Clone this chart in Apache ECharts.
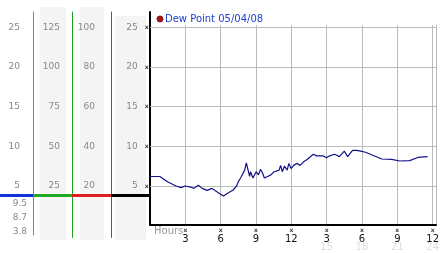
<!DOCTYPE html>
<html><head><meta charset="utf-8">
<script src="https://cdn.jsdelivr.net/npm/echarts@6/dist/echarts.min.js"></script>
<style>html,body{margin:0;padding:0;background:#fff}#c{width:442px;height:253px}</style>
</head><body><div id="c"></div>
<script>
// ---- data ----
const seriesName = 'Dew Point 05/04/08';
const hours = [0.00,0.83,1.52,2.22,2.64,2.97,3.47,3.74,4.10,4.43,4.85,5.27,5.55,5.96,6.24,6.38,6.66,7.07,7.35,7.49,7.76,8.04,8.18,8.46,8.54,8.74,9.01,9.21,9.38,9.57,9.71,9.98,10.26,10.54,10.67,10.96,11.09,11.23,11.42,11.65,11.79,11.98,12.20,12.48,12.62,12.75,13.04,13.31,13.87,14.14,14.70,14.98,15.25,15.67,16.08,16.50,16.78,17.20,17.55,17.89,18.30,18.86,19.69,20.52,21.21,22.05,22.74,23.57];
const dewPoint = [6.2,6.2,5.5,5.0,4.8,5.0,4.85,4.7,5.1,4.7,4.45,4.7,4.4,4.0,3.75,3.8,4.15,4.5,5.0,5.5,6.2,7.0,7.9,6.2,6.8,6.0,6.8,6.4,7.1,6.6,6.0,6.2,6.4,6.8,6.6,7.0,7.6,6.8,7.5,7.0,7.85,7.2,7.6,7.85,8.05,7.6,8.05,8.3,9.0,8.8,8.8,8.55,8.8,9.0,8.7,9.4,8.7,9.5,9.5,9.4,9.25,8.9,8.4,8.35,8.15,8.2,8.6,8.7];
const gridValues = [5, 10, 15, 20, 25];
const colScales = [1, 5, 4, 1];           // column multipliers of the left scales
const hourTickLabels = ['3','6','9','12','3','6','9','12'];
const hour24Labels = ['15','18','21','24'];
const stats = ['9.5', '8.7', '3.8'];
const markerValue = 3.8;

// ---- layout helpers ----
const PX5 = 186, PPU = 7.935;
const vAt = py => 5 + (PX5 - py) / PPU;
const H = 253;
const FONT = 'DejaVu Sans';
const colDefs = [
  {left: 0,   width: 33,   top: 12, bottomPx: 235,   axisColor: '#2f9fd0', axisW: 1, segColor: '#1133dd', margin: 13},
  {left: 33,  width: 39,   top: 12, bottomPx: 237.5, axisColor: '#22a022', axisW: 1, segColor: '#22aa22', margin: 12},
  {left: 72,  width: 39,   top: 12, bottomPx: 237.5, axisColor: '#cc2a2a', axisW: 1, segColor: '#e02020', margin: 16},
  {left: 111, width: 38.5, top: 12, bottomPx: 224.5, axisColor: '#000000', axisW: 2, segColor: '#000000', margin: 1}
];

const grids = [{left: 150, right: 0, top: 25, bottom: H - 224.5}];
const xAxes = [
  {type: 'value', gridIndex: 0, min: 0, max: 24 + 3.5/12.02, interval: 3,
   axisLine: {show: true, onZero: false, lineStyle: {color: '#000', width: 2}},
   axisTick: {show: false},
   splitLine: {show: true, lineStyle: {color: '#bbbbbb', width: 1}},
   axisLabel: {margin: 3, fontFamily: FONT, formatter: v => {
     if (v <= 0 || Math.abs(v / 3 - Math.round(v / 3)) > 1e-6) return '';
     return '{m|x}\n{n|' + hourTickLabels[Math.round(v / 3) - 1] + '}';
   }, rich: {m: {fontSize: 6, lineHeight: 6, color: '#444', fontFamily: FONT, fontWeight: 'bold'},
             n: {fontSize: 10, lineHeight: 11, color: '#111', fontFamily: FONT}}}},
  {type: 'value', gridIndex: 0, position: 'bottom', min: 0, max: 24 + 3.5/12.02, interval: 3,
   axisLine: {show: false}, axisTick: {show: false}, splitLine: {show: false},
   axisLabel: {margin: 18, fontSize: 10, color: '#dddddd', fontFamily: FONT, formatter: v => {
     const i = Math.round(v / 3) - 5;
     if (Math.abs(v / 3 - Math.round(v / 3)) > 1e-6 || i < 0 || i > 3) return '';
     return hour24Labels[i];
   }}}
];
const yAxes = [
  {type: 'value', gridIndex: 0, min: vAt(224.5), max: vAt(25),
   axisLine: {show: false}, axisTick: {show: false}, axisLabel: {show: false}, splitLine: {show: false}}
];
const series = [
  {type: 'line', name: seriesName, xAxisIndex: 0, yAxisIndex: 0, z: 3,
   data: hours.map((h, i) => [h, dewPoint[i]]),
   showSymbol: false, symbol: 'none', animation: false,
   lineStyle: {color: '#12128a', width: 1.2},
   markLine: {silent: true, z: 1, symbol: 'none', animation: false, label: {show: false},
     lineStyle: {color: '#bbbbbb', width: 1, type: 'solid'},
     data: gridValues.map(v => ({yAxis: v}))}}
];

colDefs.forEach((c, i) => {
  const k = colScales[i];
  grids.push({left: c.left, width: c.width, top: c.top, bottom: H - c.bottomPx});
  xAxes.push({type: 'value', gridIndex: i + 1, min: 0, max: 1, show: false});
  const isLast = i === 3;
  yAxes.push({
    type: 'value', gridIndex: i + 1, position: 'right',
    min: vAt(c.bottomPx) * k, max: vAt(c.top) * k,
    axisLine: {show: true, onZero: false, lineStyle: {color: c.axisColor, width: c.axisW}},
    axisTick: {show: false}, splitLine: {show: false},
    axisLabel: {inside: true, margin: c.margin, fontSize: 9, color: '#888', fontFamily: FONT,
      customValues: gridValues.map(v => v * k),
      formatter: isLast ? (v => '{v|' + v + '}{m|x}') : (v => String(v)),
      rich: isLast ? {v: {fontSize: 9, color: '#888', fontFamily: FONT},
                      m: {fontSize: 6, color: '#444', fontWeight: 'bold', fontFamily: FONT, padding: [0, 0, 0, 7]}} : undefined}
  });
  series.push({type: 'line', xAxisIndex: i + 2, yAxisIndex: i + 1, silent: true, animation: false,
    symbol: 'none', showSymbol: false, z: 4,
    data: [[0, markerValue * k], [1, markerValue * k]],
    lineStyle: {color: c.segColor, width: 3}});
});

const graphics = [
  {type: 'rect', z: -10, shape: {x: 40, y: 7, width: 26, height: 233}, style: {fill: '#f4f4f4'}},
  {type: 'rect', z: -10, shape: {x: 80, y: 7, width: 24, height: 233}, style: {fill: '#f4f4f4'}},
  {type: 'rect', z: -10, shape: {x: 115, y: 16, width: 31, height: 224}, style: {fill: '#f4f4f4'}},
  {type: 'text', left: 154, top: 226, style: {text: 'Hours', fontSize: 10, fill: '#999', fontFamily: FONT}}
];
stats.forEach((s, i) => {
  graphics.push({type: 'text', right: 442 - 27, top: 199 + i * 14,
    style: {text: s, fontSize: 9, fill: '#888', fontFamily: FONT, align: 'right'}});
});

const chart = echarts.init(document.getElementById('c'), null, {renderer: 'canvas'});
chart.setOption({
  animation: false,
  backgroundColor: '#fff',
  title: {left: 157, top: 14, padding: 0,
    text: '{d|}{t|' + seriesName + '}',
    textStyle: {fontWeight: 'normal', rich: {
      d: {width: 6, height: 6, borderRadius: 3, backgroundColor: '#a01818', borderColor: '#600', borderWidth: 0.5},
      t: {fontSize: 10, fontWeight: 'normal', color: '#2040d0', fontFamily: FONT, padding: [0, 0, 0, 2]}
    }}},
  grid: grids, xAxis: xAxes, yAxis: yAxes, series: series, graphic: graphics
});
</script></body></html>
